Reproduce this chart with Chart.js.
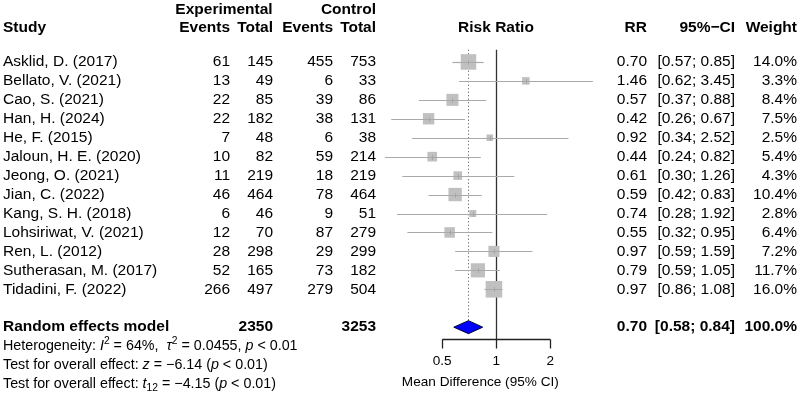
<!DOCTYPE html>
<html>
<head>
<meta charset="utf-8">
<script src="https://cdn.jsdelivr.net/npm/chart.js@4.4.1/dist/chart.umd.min.js"></script>
<style>
  html, body { margin: 0; padding: 0; background: #fff; }
  #wrap { width: 798px; height: 396px; }
</style>
</head>
<body>
<div id="wrap"><canvas id="forest" width="798" height="396"></canvas></div>
<script>
// study data
var studies = ['Asklid, D. (2017)', 'Bellato, V. (2021)', 'Cao, S. (2021)', 'Han, H. (2024)',
  'He, F. (2015)', 'Jaloun, H. E. (2020)', 'Jeong, O. (2021)', 'Jian, C. (2022)',
  'Kang, S. H. (2018)', 'Lohsiriwat, V. (2021)', 'Ren, L. (2012)', 'Sutherasan, M. (2017)',
  'Tidadini, F. (2022)'];
var expEvents = [61, 13, 22, 22, 7, 10, 11, 46, 6, 12, 28, 52, 266];
var expTotal = [145, 49, 85, 182, 48, 82, 219, 464, 46, 70, 298, 165, 497];
var ctrlEvents = [455, 6, 39, 38, 6, 59, 18, 78, 9, 87, 29, 73, 279];
var ctrlTotal = [753, 33, 86, 131, 38, 214, 219, 464, 51, 279, 299, 182, 504];
var rr = [0.70, 1.46, 0.57, 0.42, 0.92, 0.44, 0.61, 0.59, 0.74, 0.55, 0.97, 0.79, 0.97];
var lower = [0.57, 0.62, 0.37, 0.26, 0.34, 0.24, 0.30, 0.42, 0.28, 0.32, 0.59, 0.59, 0.86];
var upper = [0.85, 3.45, 0.88, 0.67, 2.52, 0.82, 1.26, 0.83, 1.92, 0.95, 1.59, 1.05, 1.08];
var weight = [14.0, 3.3, 8.4, 7.5, 2.5, 5.4, 4.3, 10.4, 2.8, 6.4, 7.2, 11.7, 16.0];

// pooled (random effects) result
var pooledLabel = 'Random effects model';
var pooledTotals = [2350, 3253];
var pooledRR = [0.70, 0.58, 0.84];   // estimate, lower, upper
var pooledWeight = '100.0%';

var xTicks = [0.5, 1, 2];
var xTitle = 'Mean Difference (95% CI)';

var hetLines = [
  [{t: 'Heterogeneity: '}, {t: 'I', it: 1}, {t: '2', sup: 1}, {t: ' = 64%,  '}, {t: '\u03C4', it: 1}, {t: '2', sup: 1}, {t: ' = 0.0455, '}, {t: 'p', it: 1}, {t: ' < 0.01'}],
  [{t: 'Test for overall effect: '}, {t: 'z', it: 1}, {t: ' = \u22126.14 ('}, {t: 'p', it: 1}, {t: ' < 0.01)'}],
  [{t: 'Test for overall effect: '}, {t: 't', it: 1}, {t: '12', sub: 1}, {t: ' = \u22124.15 ('}, {t: 'p', it: 1}, {t: ' < 0.01)'}]
];

var FONT = '"Liberation Sans", Arial, Helvetica, sans-serif';
var FS = 15.5;      // main text size
var FS_HET = 14.3;  // heterogeneity lines
var FS_AXIS = 13.6; // x axis ticks and title
var pooledRow = studies.length + 1;

// column anchors (x in px)
var col = { study: 3, expEv: 230, expTot: 273, ctrlEv: 333, ctrlTot: 376,
            expHead: 224, rrHead: 496, rr: 647, ci: 735, w: 797 };

function fmtCI(l, u) { return '[' + l.toFixed(2) + '; ' + u.toFixed(2) + ']'; }
function boxSide(w) { return 4.15 * Math.sqrt(w); }

function txt(ctx, s, x, y, align, bold, size) {
  ctx.font = (bold ? 'bold ' : '') + (size || FS) + 'px ' + FONT;
  ctx.textAlign = align || 'left';
  ctx.fillText(s, x, y);
}

function drawRich(ctx, parts, x, y, size) {
  var cx = x;
  ctx.textAlign = 'left';
  parts.forEach(function (p) {
    var s = (p.sup || p.sub) ? size * 0.72 : size;
    ctx.font = (p.it ? 'italic ' : '') + s + 'px ' + FONT;
    var dy = p.sup ? -size * 0.38 : (p.sub ? size * 0.28 : 0);
    ctx.fillText(p.t, cx, y + dy);
    cx += ctx.measureText(p.t).width;
  });
}

var forestPlugin = {
  id: 'forest',
  beforeDatasetsDraw: function (chart) {
    var ctx = chart.ctx, xs = chart.scales.x, ys = chart.scales.y;
    var top = ys.getPixelForValue(-0.65);
    var axisY = ys.getPixelForValue(pooledRow) + 12;
    ctx.save();
    // line of no effect
    ctx.strokeStyle = '#333';
    ctx.lineWidth = 1.3;
    ctx.beginPath();
    ctx.moveTo(Math.round(xs.getPixelForValue(1)) + 0.5, top);
    ctx.lineTo(Math.round(xs.getPixelForValue(1)) + 0.5, axisY);
    ctx.stroke();
    // pooled estimate (dotted)
    ctx.strokeStyle = '#666';
    ctx.lineWidth = 1;
    ctx.setLineDash([1.2, 2.3]);
    ctx.beginPath();
    ctx.moveTo(Math.round(xs.getPixelForValue(pooledRR[0])) + 0.5, top);
    ctx.lineTo(Math.round(xs.getPixelForValue(pooledRR[0])) + 0.5, ys.getPixelForValue(pooledRow) - 6);
    ctx.stroke();
    ctx.setLineDash([]);
    // confidence intervals
    ctx.save();
    ctx.beginPath();
    ctx.rect(chart.chartArea.left, 0, chart.chartArea.right - chart.chartArea.left, chart.height);
    ctx.clip();
    ctx.strokeStyle = '#aaaaaa';
    ctx.lineWidth = 1.2;
    rr.forEach(function (v, i) {
      var y = Math.round(ys.getPixelForValue(i)) + 0.5;
      ctx.beginPath();
      ctx.moveTo(xs.getPixelForValue(lower[i]), y);
      ctx.lineTo(xs.getPixelForValue(upper[i]), y);
      ctx.stroke();
    });
    ctx.restore();
    ctx.restore();
  },
  afterDatasetsDraw: function (chart) {
    var ctx = chart.ctx, xs = chart.scales.x, ys = chart.scales.y;
    ctx.save();
    // faint whisker through squares and estimate tick
    ctx.strokeStyle = 'rgba(150,150,150,0.55)';
    ctx.lineWidth = 1;
    rr.forEach(function (v, i) {
      var y = Math.round(ys.getPixelForValue(i)) + 0.5;
      var h = boxSide(weight[i]) / 2;
      var x = xs.getPixelForValue(v);
      ctx.beginPath();
      ctx.moveTo(Math.max(x - h, xs.getPixelForValue(lower[i])), y);
      ctx.lineTo(Math.min(x + h, xs.getPixelForValue(upper[i])), y);
      ctx.moveTo(Math.round(x) + 0.5, y - 2.5);
      ctx.lineTo(Math.round(x) + 0.5, y + 2.5);
      ctx.stroke();
    });
    // pooled diamond
    var py = ys.getPixelForValue(pooledRow);
    ctx.fillStyle = '#0000ff';
    ctx.strokeStyle = '#000033';
    ctx.lineWidth = 1;
    ctx.beginPath();
    ctx.moveTo(xs.getPixelForValue(pooledRR[1]), py);
    ctx.lineTo(xs.getPixelForValue(pooledRR[0]), py - 6.5);
    ctx.lineTo(xs.getPixelForValue(pooledRR[2]), py);
    ctx.lineTo(xs.getPixelForValue(pooledRR[0]), py + 6.5);
    ctx.closePath();
    ctx.fill();
    ctx.stroke();

    // x axis drawn from the log scale, only over the tick range
    var axisY = Math.round(py + 12) + 0.5;
    var x0 = xs.getPixelForValue(xTicks[0]), x1 = xs.getPixelForValue(xTicks[xTicks.length - 1]);
    ctx.strokeStyle = '#222';
    ctx.lineWidth = 1.3;
    ctx.beginPath();
    ctx.moveTo(x0, axisY);
    ctx.lineTo(x1, axisY);
    xTicks.forEach(function (t) {
      var tx = Math.round(xs.getPixelForValue(t)) + 0.5;
      ctx.moveTo(tx, axisY);
      ctx.lineTo(tx, axisY + 9);
    });
    ctx.stroke();
    ctx.fillStyle = '#000';
    ctx.textBaseline = 'middle';
    xTicks.forEach(function (t) {
      txt(ctx, String(t), xs.getPixelForValue(t), axisY + 22, 'center', false, FS_AXIS);
    });
    txt(ctx, xTitle, xs.getPixelForValue(1) - 16, axisY + 43, 'center', false, FS_AXIS);

    // table text
    var hy1 = ys.getPixelForValue(-2.74), hy2 = ys.getPixelForValue(-1.79);
    txt(ctx, 'Experimental', col.expHead, hy1, 'center', true);
    txt(ctx, 'Control', col.ctrlTot, hy1, 'right', true);
    txt(ctx, 'Study', col.study, hy2, 'left', true);
    txt(ctx, 'Events', col.expEv, hy2, 'right', true);
    txt(ctx, 'Total', col.expTot, hy2, 'right', true);
    txt(ctx, 'Events', col.ctrlEv, hy2, 'right', true);
    txt(ctx, 'Total', col.ctrlTot, hy2, 'right', true);
    txt(ctx, 'Risk Ratio', col.rrHead, hy2, 'center', true);
    txt(ctx, 'RR', col.rr, hy2, 'right', true);
    txt(ctx, '95%\u2212CI', col.ci, hy2, 'right', true);
    txt(ctx, 'Weight', col.w, hy2, 'right', true);

    studies.forEach(function (s, i) {
      var y = ys.getPixelForValue(i);
      txt(ctx, s, col.study, y, 'left');
      txt(ctx, String(expEvents[i]), col.expEv, y, 'right');
      txt(ctx, String(expTotal[i]), col.expTot, y, 'right');
      txt(ctx, String(ctrlEvents[i]), col.ctrlEv, y, 'right');
      txt(ctx, String(ctrlTotal[i]), col.ctrlTot, y, 'right');
      txt(ctx, rr[i].toFixed(2), col.rr, y, 'right');
      txt(ctx, fmtCI(lower[i], upper[i]), col.ci, y, 'right');
      txt(ctx, weight[i].toFixed(1) + '%', col.w, y, 'right');
    });

    txt(ctx, pooledLabel, col.study, py, 'left', true);
    txt(ctx, String(pooledTotals[0]), col.expTot, py, 'right', true);
    txt(ctx, String(pooledTotals[1]), col.ctrlTot, py, 'right', true);
    txt(ctx, pooledRR[0].toFixed(2), col.rr, py, 'right', true);
    txt(ctx, fmtCI(pooledRR[1], pooledRR[2]), col.ci, py, 'right', true);
    txt(ctx, pooledWeight, col.w, py, 'right', true);

    hetLines.forEach(function (parts, k) {
      drawRich(ctx, parts, col.study, ys.getPixelForValue(pooledRow + 1 + k), FS_HET);
    });
    ctx.restore();
  }
};

var ctx = document.getElementById('forest').getContext('2d');

new Chart(ctx, {
  type: 'scatter',
  data: {
    datasets: [{
      label: 'Risk Ratio',
      data: rr.map(function (v, i) { return { x: v, y: i }; }),
      pointStyle: 'rect',
      // Chart.js draws a 'rect' point with side radius*sqrt(2)
      pointRadius: weight.map(function (w) { return boxSide(w) / Math.SQRT2; }),
      pointHoverRadius: weight.map(function (w) { return boxSide(w) / Math.SQRT2; }),
      backgroundColor: '#c0c0c0',
      borderWidth: 0
    }]
  },
  options: {
    responsive: false,
    animation: false,
    layout: { padding: { left: 380, right: 186, top: 43, bottom: 12 } },
    scales: {
      x: { type: 'logarithmic', min: 0.2253, max: 4.404, bounds: 'data', display: false },
      y: { type: 'linear', min: -1, max: 17, reverse: true, display: false }
    },
    plugins: { legend: { display: false }, tooltip: { enabled: false } }
  },
  plugins: [forestPlugin]
});
</script>
</body>
</html>
